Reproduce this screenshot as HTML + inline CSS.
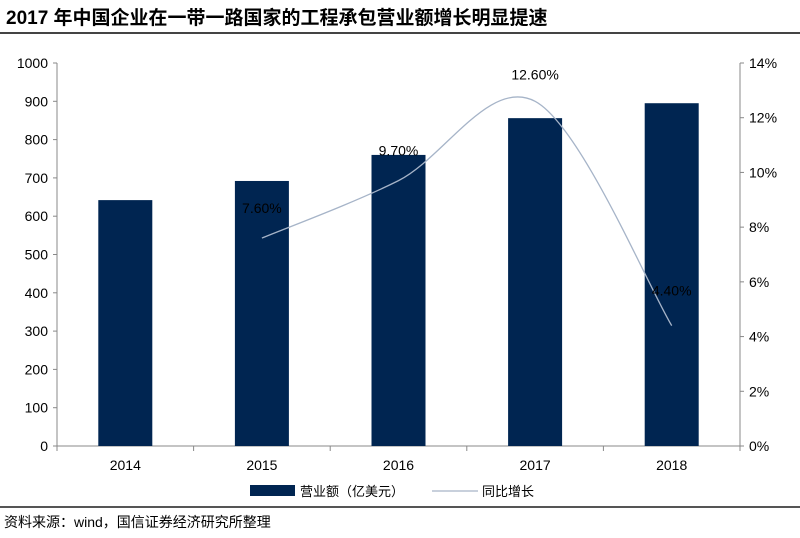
<!DOCTYPE html>
<html><head><meta charset="utf-8"><style>
body{margin:0;background:#fff;width:800px;height:533px;overflow:hidden;font-family:"Liberation Sans","Noto Sans CJK SC",sans-serif}
</style></head><body>
<svg width="800" height="533" id="svg" xmlns="http://www.w3.org/2000/svg">
<text x="6" y="24" font-size="19" font-weight="bold" fill="#000" font-family="Liberation Sans,Noto Sans CJK SC,sans-serif">2017 年中国企业在一带一路国家的工程承包营业额增长明显提速</text>
<line x1="0" y1="33" x2="800" y2="33" stroke="#444" stroke-width="2"/>
<line x1="0" y1="507" x2="800" y2="507" stroke="#555" stroke-width="2"/>
<text x="4" y="527" font-size="14" fill="#000">资料来源：wind，国信证券经济研究所整理</text>
<g id="plot"></g>
</svg>
<script>
const years=['2014','2015','2016','2017','2018'];
const revenue=[642,692,760,856,895];
const growth=[null,7.6,9.7,12.6,4.4];
const growthLabels=['','7.60%','9.70%','12.60%','4.40%'];
const leftTicks=[0,100,200,300,400,500,600,700,800,900,1000];
const rightTicks=[0,2,4,6,8,10,12,14];
const NS='http://www.w3.org/2000/svg';
const g=document.getElementById('plot');
const X0=57,X1=740,Y0=446,Y1=63;
const cw=(X1-X0)/years.length;
const xc=i=>X0+cw*(i+0.5);
const yL=v=>Y0-(v/1000)*(Y0-Y1);
const yR=v=>Y0-(v/14)*(Y0-Y1);
function mk(t,a,txt){const e=document.createElementNS(NS,t);for(const k in a)e.setAttribute(k,a[k]);if(txt!=null)e.textContent=txt;g.appendChild(e);return e;}
let e;
e=mk('line',{x1:X0,y1:Y1,x2:X0,y2:Y0,stroke:'#888'});


e=mk('line',{x1:X1,y1:Y1,x2:X1,y2:Y0,stroke:'#888'});


e=mk('line',{x1:X0,y1:Y0,x2:X1,y2:Y0,stroke:'#888'});


leftTicks.forEach(v=>{const y=yL(v);mk('line',{x1:X0-4,y1:y,x2:X0,y2:y,stroke:'#888'});
e=mk('text',{x:X0-9,y:y+5,'font-size':14,'text-anchor':'end',fill:'#000'},String(v));

});
rightTicks.forEach(v=>{const y=yR(v);mk('line',{x1:X1,y1:y,x2:X1+4,y2:y,stroke:'#888'});
e=mk('text',{x:X1+9,y:y+5,'font-size':14,fill:'#000'},v+'%');

});
for(let i=0;i<=years.length;i++){const x=X0+cw*i;mk('line',{x1:x,y1:Y0,x2:x,y2:Y0+5,stroke:'#888'});}
years.forEach((y,i)=>{
e=mk('rect',{x:xc(i)-27,y:yL(revenue[i]),width:54,height:Y0-yL(revenue[i]),fill:'#002551'});


e=mk('text',{x:xc(i),y:Y0+24,'font-size':14,'text-anchor':'middle',fill:'#000'},y);


});
const pts=[];growth.forEach((v,i)=>{if(v!=null)pts.push([xc(i),yR(v)]);});
let d='M'+pts[0][0]+','+pts[0][1];
for(let i=0;i<pts.length-1;i++){const p0=pts[i-1]||pts[i],p1=pts[i],p2=pts[i+1],p3=pts[i+2]||p2;
d+=` C${p1[0]+(p2[0]-p0[0])/6},${p1[1]+(p2[1]-p0[1])/6} ${p2[0]-(p3[0]-p1[0])/6},${p2[1]-(p3[1]-p1[1])/6} ${p2[0]},${p2[1]}`;}
e=mk('path',{d:d,fill:'none',stroke:'#a6b4c8','stroke-width':1.3});


growth.forEach((v,i)=>{if(v==null)return;
const off=i===3?-22:(i===4?-30:-25);
e=mk('text',{x:xc(i),y:yR(v)+off,'font-size':14,'text-anchor':'middle',fill:'#000'},growthLabels[i]);

});
e=mk('rect',{x:250,y:485,width:45,height:11,fill:'#002551'});


e=mk('text',{x:300,y:496,'font-size':13,fill:'#000'},'营业额（亿美元）');


e=mk('line',{x1:432,y1:491,x2:478,y2:491,stroke:'#a6b4c8','stroke-width':1.3});


e=mk('text',{x:482,y:496,'font-size':13,fill:'#000'},'同比增长');


</script>
</body></html>
